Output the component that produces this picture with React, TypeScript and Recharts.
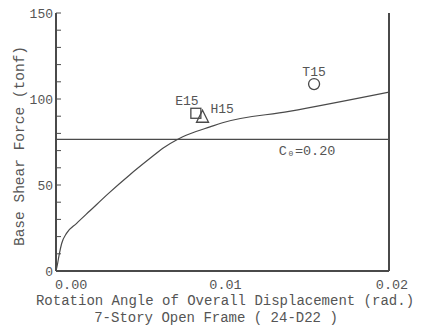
import { ComposedChart, Line, Scatter, XAxis, YAxis, ReferenceLine } from "recharts"

// load-deformation curve
const rotation = [0, 0.00008, 0.0002, 0.00034, 0.00064, 0.00124, 0.00204, 0.00314, 0.00444, 0.00565, 0.00644, 0.00729, 0.00805, 0.00925, 0.01, 0.014, 0.02]
const shearForce = [0, 3.5, 10, 16, 22, 27.7, 35, 45, 56, 65.5, 71.5, 76.5, 79.8, 83.8, 86.2, 92.8, 104]

// test results
const E15 = [{ name: "E15", x: 0.0084, y: 91.7 }]
const H15 = [{ name: "H15", x: 0.0088, y: 89.4 }]
const T15 = [{ name: "T15", x: 0.0155, y: 108.7 }]

const baseShearC0 = 76.5
const yTicks = [0, 10, 20, 30, 40, 50, 60, 70, 80, 90, 100, 110, 120, 130, 140, 150]
const xTicks = [0, 0.01, 0.02]
const xTickLabels = ["0.00", "0.01", "0.02"]

const curve = rotation.map((x, i) => ({ x, y: shearForce[i] }))

const FONT = "'Liberation Mono', 'DejaVu Sans Mono', monospace"
const INK = "#4a4a4a"
const TEXT = "#555"

const YTick = (props: any) => {
  const { x, y, payload } = props
  if (payload.value % 50 !== 0) return <g />
  return (
    <text x={x} y={y} dy={5} textAnchor="end" fill={TEXT} fontSize={13} fontFamily={FONT}>
      {payload.value}
    </text>
  )
}

const XTick = (props: any) => {
  const { x, y, payload, index } = props
  const first = index === 0
  return (
    <text x={first ? x - 1 : x + 3} y={y} dy={10} textAnchor={first ? "start" : "middle"} fill={TEXT} fontSize={13.5} fontFamily={FONT}>
      {xTickLabels[xTicks.indexOf(payload.value)]}
    </text>
  )
}

const square = (props: any) => (
  <g>
    <rect x={props.cx - 5} y={props.cy - 5} width={10} height={10} fill="none" stroke={INK} strokeWidth={1.3} />
    <text x={props.cx - 9} y={props.cy - 8} textAnchor="middle" fill={TEXT} fontSize={13} fontFamily={FONT}>
      {props.payload.name}
    </text>
  </g>
)

const triangle = (props: any) => (
  <g>
    <polygon
      points={`${props.cx},${props.cy - 7} ${props.cx + 6},${props.cy + 5} ${props.cx - 6},${props.cy + 5}`}
      fill="none"
      stroke={INK}
      strokeWidth={1.3}
    />
    <text x={props.cx + 8} y={props.cy - 4} textAnchor="start" fill={TEXT} fontSize={13} fontFamily={FONT}>
      {props.payload.name}
    </text>
  </g>
)

const circle = (props: any) => (
  <g>
    <circle cx={props.cx} cy={props.cy} r={5.5} fill="none" stroke={INK} strokeWidth={1.3} />
    <text x={props.cx} y={props.cy - 8} textAnchor="middle" fill={TEXT} fontSize={13} fontFamily={FONT}>
      {props.payload.name}
    </text>
  </g>
)

export default function App() {
  return (
    <div style={{ position: "absolute", left: 0, top: 0, background: "#fff" }}>
      <ComposedChart width={423} height={330} margin={{ top: 13, right: 33, bottom: 0, left: 10 }}>
        <XAxis
          xAxisId="top"
          orientation="top"
          type="number"
          dataKey="x"
          domain={[0, 0.02]}
          height={0}
          tick={false}
          tickLine={false}
          axisLine={{ stroke: INK, strokeWidth: 2 }}
        />
        <XAxis
          type="number"
          dataKey="x"
          domain={[0, 0.02]}
          ticks={xTicks}
          interval={0}
          height={59}
          tickLine={false}
          tick={<XTick />}
          axisLine={{ stroke: INK, strokeWidth: 2 }}
          label={{
            content: () => (
              <g fill={TEXT} fontFamily={FONT} fontSize={14}>
                <text x={225} y={305} textAnchor="middle">Rotation Angle of Overall Displacement (rad.)</text>
                <text x={216} y={322} textAnchor="middle">7-Story Open Frame ( 24-D22 )</text>
              </g>
            ),
          }}
        />
        <YAxis
          type="number"
          dataKey="y"
          domain={[0, 150]}
          ticks={yTicks}
          interval={0}
          width={46}
          tickSize={-5}
          tickMargin={8}
          tick={<YTick />}
          tickLine={{ stroke: INK }}
          axisLine={{ stroke: INK, strokeWidth: 2 }}
          label={{
            content: () => (
              <text x={24} y={146} transform="rotate(-90 24 146)" textAnchor="middle" fill={TEXT} fontFamily={FONT} fontSize={14.5}>
                Base Shear Force (tonf)
              </text>
            ),
          }}
        />
        <YAxis
          yAxisId="r"
          orientation="right"
          type="number"
          domain={[0, 150]}
          ticks={yTicks}
          interval={0}
          width={1}
          tickSize={-5}
          tick={() => <g />}
          tickLine={{ stroke: INK }}
          axisLine={{ stroke: INK, strokeWidth: 2 }}
        />
        <ReferenceLine
          y={baseShearC0}
          stroke={INK}
          strokeWidth={1.2}
          label={{
            content: (p: any) => (
              <text x={p.viewBox.x + p.viewBox.width * 0.754} y={p.viewBox.y + 16} textAnchor="middle" fill={TEXT} fontFamily={FONT} fontSize={13.5}>
                C₀=0.20
              </text>
            ),
          }}
        />
        <Line data={curve} dataKey="y" type="monotone" stroke={INK} strokeWidth={1.2} dot={false} isAnimationActive={false} />
        <Scatter data={E15} dataKey="y" shape={square} isAnimationActive={false} />
        <Scatter data={H15} dataKey="y" shape={triangle} isAnimationActive={false} />
        <Scatter data={T15} dataKey="y" shape={circle} isAnimationActive={false} />
      </ComposedChart>
    </div>
  )
}
